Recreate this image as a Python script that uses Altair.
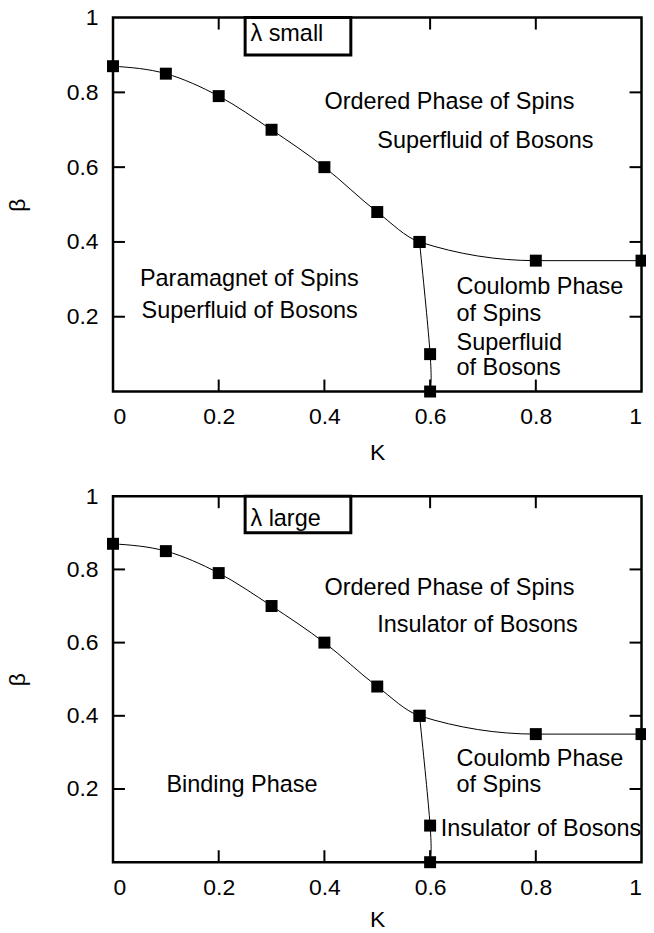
import altair as alt
import pandas as pd

# ---- data ----
K_upper = [0.0, 0.1, 0.2, 0.3, 0.4, 0.5, 0.58, 0.8, 1.0]
beta_upper = [0.87, 0.85, 0.79, 0.70, 0.60, 0.48, 0.40, 0.35, 0.35]
K_branch = [0.58, 0.60, 0.60]
beta_branch = [0.40, 0.10, 0.00]

x_tick_values = [0, 0.2, 0.4, 0.6, 0.8, 1]
y_tick_values = [0.2, 0.4, 0.6, 0.8, 1]
inner_ticks = [0.2, 0.4, 0.6, 0.8]

top_texts = ["Ordered Phase of Spins", "Superfluid of Bosons", "Paramagnet of Spins",
             "Superfluid of Bosons", "Coulomb Phase", "of Spins", "Superfluid", "of Bosons"]
top_text_K = [0.40, 0.50, 0.051, 0.054, 0.65, 0.65, 0.65, 0.65]
top_text_beta = [0.755, 0.65, 0.283, 0.197, 0.262, 0.189, 0.11, 0.043]

bottom_texts = ["Ordered Phase of Spins", "Insulator of Bosons", "Binding Phase",
                "Coulomb Phase", "of Spins", "Insulator of Bosons"]
bottom_text_K = [0.40, 0.50, 0.101, 0.65, 0.65, 0.62]
bottom_text_beta = [0.73, 0.63, 0.191, 0.262, 0.193, 0.071]

box_K = [0.25, 0.45]
box_beta = [0.90, 1.00]
box_labels = ["λ small", "λ large"]
box_label_K = [0.26, 0.26]
box_label_beta = [0.937, 0.92]

FONT = "Liberation Sans"
W = 530
HEIGHTS = [375, 367]
K_TITLE_PAD = [13, 9]

upper_df = pd.DataFrame({"K": K_upper, "beta": beta_upper})
branch_df = pd.DataFrame({"K": K_branch, "beta": beta_branch, "o": list(range(len(K_branch)))})
points_df = pd.concat([upper_df, branch_df[["K", "beta"]]], ignore_index=True)
ticks_df = pd.DataFrame({"v": inner_ticks})

xs = alt.Scale(domain=[0, 1], nice=False, zero=False)
ys = alt.Scale(domain=[0, 1], nice=False, zero=False)

yaxis = alt.Axis(values=y_tick_values, format="~g", title="β", domain=False, ticks=False,
                 grid=False, labelPadding=15, titlePadding=36.5, labelFlush=False)


def panel(H, tpad, texts, tK, tB, box_label, bK, bB):
    xaxis = alt.Axis(values=x_tick_values, format="~g", title="K", domain=False, ticks=False,
                     grid=False, labelPadding=14, titlePadding=tpad, labelFlush=True,
                     labelFlushOffset=0, labelOffset=0)

    def X(field):
        return alt.X(field, scale=xs, axis=xaxis)

    def Y(field):
        return alt.Y(field, scale=ys, axis=yaxis)

    upper = alt.Chart(upper_df).mark_line(color="black", strokeWidth=1, interpolate="monotone").encode(
        x=X("K:Q"), y=Y("beta:Q"),
    )
    branch = alt.Chart(branch_df).mark_line(color="black", strokeWidth=1, interpolate="natural").encode(
        x=X("K:Q"), y=Y("beta:Q"), order="o:O",
    )
    pts = alt.Chart(points_df).mark_square(size=144, color="black", opacity=1).encode(
        x=X("K:Q"), y=Y("beta:Q"),
    )
    tdf = pd.DataFrame({"t": texts, "K": tK, "beta": tB})
    labels = alt.Chart(tdf).mark_text(align="left", baseline="alphabetic", fontSize=23.5,
                                      font=FONT, color="black").encode(
        x=X("K:Q"), y=Y("beta:Q"), text="t:N",
    )
    bdf = pd.DataFrame({"K": [box_K[0]], "K2": [box_K[1]], "beta": [box_beta[0]], "b2": [box_beta[1]]})
    box = alt.Chart(bdf).mark_rect(fill="white", stroke="black", strokeWidth=3).encode(
        x=X("K:Q"), x2="K2:Q", y=Y("beta:Q"), y2="b2:Q",
    )
    bldf = pd.DataFrame({"t": [box_label], "K": [bK], "beta": [bB]})
    box_text = alt.Chart(bldf).mark_text(align="left", baseline="alphabetic", fontSize=23.5,
                                         font=FONT, color="black").encode(
        x=X("K:Q"), y=Y("beta:Q"), text="t:N",
    )
    tick_bottom = alt.Chart(ticks_df).mark_rule(color="black", strokeWidth=2).encode(
        x=X("v:Q"), y=alt.value(H - 12), y2=alt.value(H))
    tick_top = alt.Chart(ticks_df).mark_rule(color="black", strokeWidth=2).encode(
        x=X("v:Q"), y=alt.value(0), y2=alt.value(12))
    tick_left = alt.Chart(ticks_df).mark_rule(color="black", strokeWidth=2).encode(
        y=Y("v:Q"), x=alt.value(0), x2=alt.value(12))
    tick_right = alt.Chart(ticks_df).mark_rule(color="black", strokeWidth=2).encode(
        y=Y("v:Q"), x=alt.value(W - 12), x2=alt.value(W))

    return alt.layer(upper, branch, tick_bottom, tick_top, tick_left, tick_right,
                     labels, box, box_text, pts).properties(width=W, height=H)


top = panel(HEIGHTS[0], K_TITLE_PAD[0], top_texts, top_text_K, top_text_beta, box_labels[0],
            box_label_K[0], box_label_beta[0])
bottom = panel(HEIGHTS[1], K_TITLE_PAD[1], bottom_texts, bottom_text_K, bottom_text_beta,
               box_labels[1], box_label_K[1], box_label_beta[1])

chart = alt.vconcat(top, bottom, spacing=105, bounds="flush").properties(
    padding={"left": -2.7, "top": -4.7, "right": -3.5, "bottom": 0},
    background="white",
).configure_view(
    stroke="black", strokeWidth=2.5
).configure_axis(
    labelFont=FONT, titleFont=FONT, labelFontSize=23, titleFontSize=23,
    labelColor="black", titleColor="black", titleFontWeight="normal"
)

chart.save("out.html", embed_options={"renderer": "svg", "actions": False})
